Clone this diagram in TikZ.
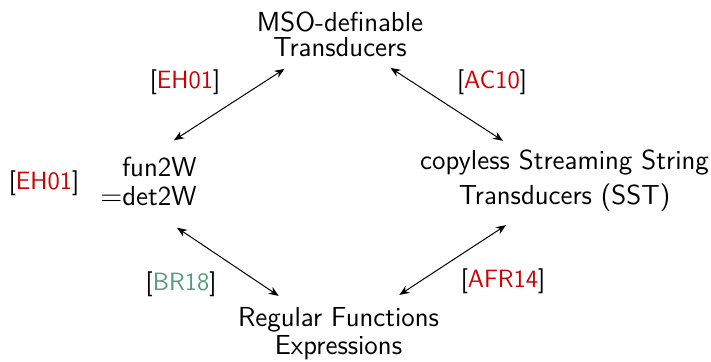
\documentclass[tikz,border=0pt]{standalone}
\usepackage{tikz}
\usetikzlibrary{arrows.meta,calc,positioning}
\usepackage{xcolor}
\renewcommand{\familydefault}{\sfdefault}
\definecolor{CiteRed}{RGB}{204,0,0}
\definecolor{CiteGreen}{RGB}{80,155,125}
\newcommand{\CiteRef}[2]{[\textcolor{#1}{#2}]}

\begin{document}
\begin{tikzpicture}[
  x=0.5pt,y=-0.5pt,
  model/.style={font=\sffamily\fontsize{13.75}{14}\selectfont,align=center,inner sep=0pt},
  ref/.style={font=\sffamily\fontsize{12.5}{14}\selectfont,inner sep=0pt},
  biarrow/.style={black,line width=0.5pt,{Stealth[length=5pt,width=4pt]}-{Stealth[length=5pt,width=4pt]}}
]
\useasboundingbox (0,0) rectangle (711,362);

% Models
\node[model] (mso) at (340,34) {MSO-definable\\[-1.5pt]Transducers};
\node[model,align=right,anchor=east] (fun) at (197,181) {fun2W\\[0.5pt]$=$det2W};
\node[model] (sst) at (564.5,181) {copyless Streaming String\\[3.5pt]Transducers (SST)};
\node[model] (reg) at (338.5,333.5) {Regular Functions\\Expressions};

% Equivalences
\draw[biarrow] ($(fun.north east)+(-23,-16)$) -- ($(mso.south west)+(28,12)$);
\draw[biarrow] ($(mso.south east)+(-33,11)$) -- ($(sst.north)+(-61.5,-9)$);
\draw[biarrow] ($(fun.south east)+(-20,22)$) -- ($(reg.north west)+(41,-11)$);
\draw[biarrow] ($(sst.south)+(-58.5,13)$) -- ($(reg.north east)+(-40,-12)$);

% References
\node[ref] (eh1) at (185,82) {\CiteRef{CiteRed}{EH01}};
\node[ref] (ac) at (492,82) {\CiteRef{CiteRed}{AC10}};
\node[ref] (eh2) at (44,183) {\CiteRef{CiteRed}{EH01}};
\node[ref] (br) at (181,284) {\CiteRef{CiteGreen}{BR18}};
\node[ref] (afr) at (503,281) {\CiteRef{CiteRed}{AFR14}};

\end{tikzpicture}
\end{document}
